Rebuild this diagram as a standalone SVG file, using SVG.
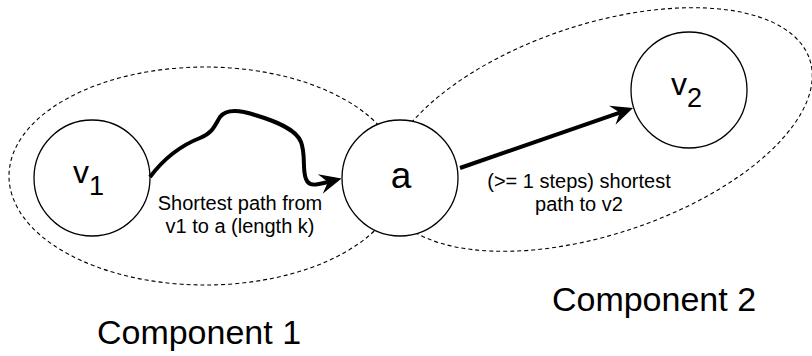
<svg xmlns="http://www.w3.org/2000/svg" width="812" height="356" viewBox="0 0 812 356">
  <style>
    .region { fill: none; stroke: #000; stroke-width: 1.1; stroke-dasharray: 4 3; }
    .node { fill: #fff; stroke: #000; stroke-width: 1.3; }
    .edge { fill: none; stroke: #000; stroke-width: 4; stroke-linejoin: round; }
    text { font-family: "Liberation Sans", Arial, sans-serif; fill: #000; }
    .lbl { font-size: 20px; text-anchor: middle; }
    .comp { font-size: 34px; text-anchor: middle; }
    .big { font-size: 32px; }
    .sub { font-size: 27px; }
  </style>
  <defs>
    <marker id="arrow" viewBox="-23 -11 25 22" refX="-14" refY="0" markerWidth="25" markerHeight="22" markerUnits="userSpaceOnUse" orient="auto">
      <path d="M0,0 L-22,-10 L-14,0 L-22,10 Z" fill="#000"/>
    </marker>
  </defs>

  <!-- component outlines -->
  <g id="component1">
    <ellipse class="region" cx="205" cy="176" rx="196" ry="109"/>
    <text class="comp" x="199" y="344">Component 1</text>
  </g>
  <g id="component2">
    <ellipse class="region" cx="598" cy="129.5" rx="223" ry="105" transform="rotate(-18.3 598 129.5)"/>
    <text class="comp" x="654" y="311">Component 2</text>
  </g>

  <!-- vertices -->
  <g id="node-v1">
    <circle class="node" cx="92" cy="178" r="58"/>
    <text x="73" y="183"><tspan class="big">v</tspan><tspan class="sub" dy="12">1</tspan></text>
  </g>
  <g id="node-a">
    <circle class="node" cx="400" cy="178" r="58"/>
    <text x="401" y="188" font-size="37" text-anchor="middle">a</text>
  </g>
  <g id="node-v2">
    <circle class="node" cx="689" cy="90" r="58"/>
    <text x="671" y="95"><tspan class="big">v</tspan><tspan class="sub" dy="12">2</tspan></text>
  </g>

  <!-- connectors -->
  <g id="connectors">
    <path class="edge" marker-end="url(#arrow)" d="M150,177 C165,157 182,145 200,138 C213,133 215,125 220,117 C226,109 240,110 255,115 C275,121 296,129 301,142 C306,155 302,170 306,179 C309,187 316,185 328,182"/>
    <path class="edge" marker-end="url(#arrow)" d="M460,168 L619.8,112.6"/>
    <text class="lbl" x="240" y="210">Shortest path from</text>
    <text class="lbl" x="240" y="233">v1 to a (length k)</text>
    <text class="lbl" x="579" y="188">(&gt;= 1 steps) shortest</text>
    <text class="lbl" x="579" y="211">path to v2</text>
  </g>
</svg>
